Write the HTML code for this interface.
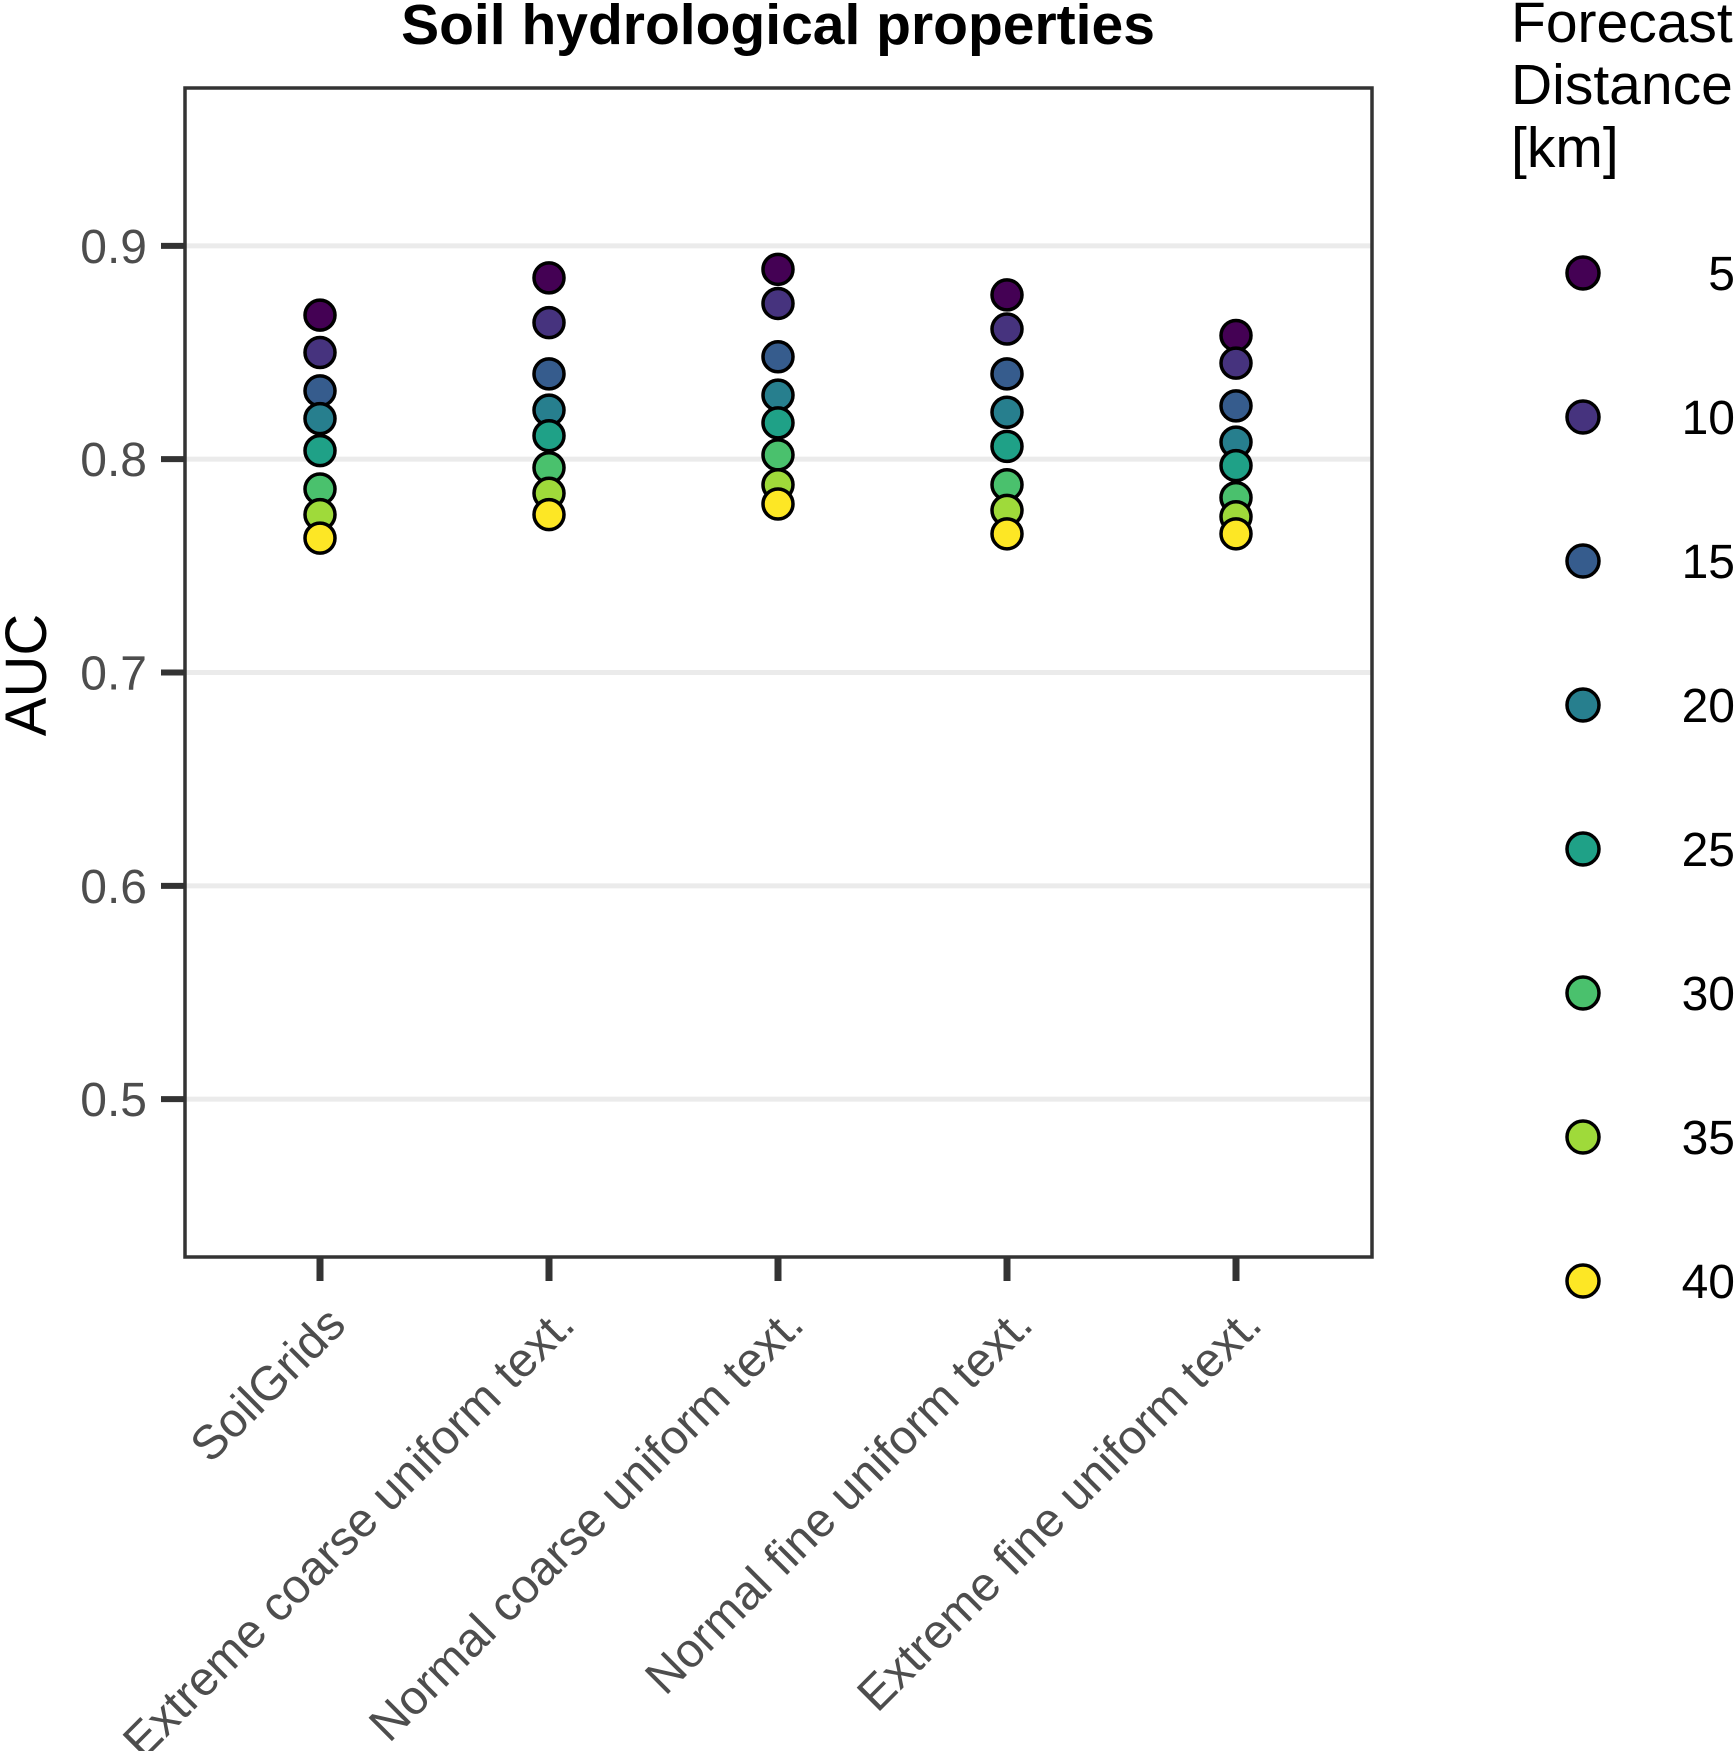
<!DOCTYPE html>
<html><head><meta charset="utf-8"><style>
html,body{margin:0;padding:0;background:#fff;}
svg{display:block;font-family:"Liberation Sans",Arial,sans-serif;}
</style></head><body>
<svg id="chart" width="1735" height="1751" viewBox="0 0 1735 1751">
<text x="778" y="44" text-anchor="middle" font-size="57" font-weight="bold" fill="#000">Soil hydrological properties</text>
<g id="grid"></g>
<g id="yaxis"></g>
<g id="xaxis"></g>
<g id="points"></g>
<rect x="185" y="88" width="1187" height="1169" fill="none" stroke="#333" stroke-width="3.5"/>
<text transform="translate(46,675) rotate(-90)" text-anchor="middle" font-size="58" fill="#000">AUC</text>
<g font-size="57" fill="#000">
<text x="1511" y="42">Forecast</text>
<text x="1511" y="104">Distance</text>
<text x="1511" y="167">[km]</text>
</g>
<g id="legend"></g>
</svg>
<script>
const categories = ["SoilGrids","Extreme coarse uniform text.","Normal coarse uniform text.","Normal fine uniform text.","Extreme fine uniform text."];
const distances = [5,10,15,20,25,30,35,40];
const colors = ["#440154","#46337E","#365C8D","#277F8E","#1FA187","#4AC16D","#9FDA3A","#FDE725"];
const yTicks = [0.5,0.6,0.7,0.8,0.9];
const aucSoilGrids = [0.8675,0.850,0.832,0.819,0.804,0.786,0.774,0.763];
const aucExtremeCoarse = [0.885,0.864,0.840,0.823,0.811,0.796,0.784,0.774];
const aucNormalCoarse = [0.889,0.873,0.848,0.830,0.817,0.802,0.788,0.779];
const aucNormalFine = [0.877,0.861,0.840,0.822,0.806,0.788,0.776,0.765];
const aucExtremeFine = [0.858,0.845,0.825,0.808,0.797,0.782,0.773,0.765];
const seriesByCategory = [aucSoilGrids,aucExtremeCoarse,aucNormalCoarse,aucNormalFine,aucExtremeFine];

const NS="http://www.w3.org/2000/svg";
const plotL=185, plotR=1372, yMin=0.426, yMax=0.974, plotT=88, plotB=1257;
function yScale(v){return plotB-(v-yMin)/(yMax-yMin)*(plotB-plotT);}
function xScale(i){return 320+i*229;}
function mk(tag,attrs,parent){const e=document.createElementNS(NS,tag);for(const k in attrs)e.setAttribute(k,attrs[k]);parent.appendChild(e);return e;}

const grid=document.getElementById('grid'), yaxis=document.getElementById('yaxis'), xaxis=document.getElementById('xaxis');
yTicks.forEach(t=>{
  const y=yScale(t);
  const g=mk('line',{x1:plotL,x2:plotR,y1:y,y2:y,stroke:'#ebebeb','stroke-width':5},grid);
  
  
  const tk=mk('line',{x1:plotL-24,x2:plotL,y1:y,y2:y,stroke:'#333','stroke-width':6},yaxis);
  
  
  const lb=mk('text',{x:plotL-38,y:y+17,'text-anchor':'end','font-size':48,fill:'#4d4d4d'},yaxis);
  lb.textContent=t.toFixed(1);
  
  
});
categories.forEach((c,i)=>{
  const x=xScale(i);
  const tk=mk('line',{x1:x,x2:x,y1:plotB,y2:plotB+24,stroke:'#333','stroke-width':7},xaxis);
  
  
  const lb=mk('text',{transform:`translate(${x+28},${plotB+70}) rotate(-45)`,'text-anchor':'end','font-size':48,fill:'#4d4d4d'},xaxis);
  lb.textContent=c;
  
  
});
const pts=document.getElementById('points');
seriesByCategory.forEach((vals,i)=>{
  vals.forEach((v,j)=>{
    const p=mk('circle',{cx:xScale(i),cy:yScale(v),r:15,fill:colors[j],stroke:'#000','stroke-width':3.5},pts);
    
    
  });
});
const leg=document.getElementById('legend');
distances.forEach((d,j)=>{
  const y=273+j*144;
  const c=mk('circle',{cx:1583,cy:y,r:16,fill:colors[j],stroke:'#000','stroke-width':3.5},leg);
  
  
  const t=mk('text',{x:1735,y:y+17,'text-anchor':'end','font-size':48,fill:'#000'},leg);
  t.textContent=d;
  
  
});
</script>
</body></html>
